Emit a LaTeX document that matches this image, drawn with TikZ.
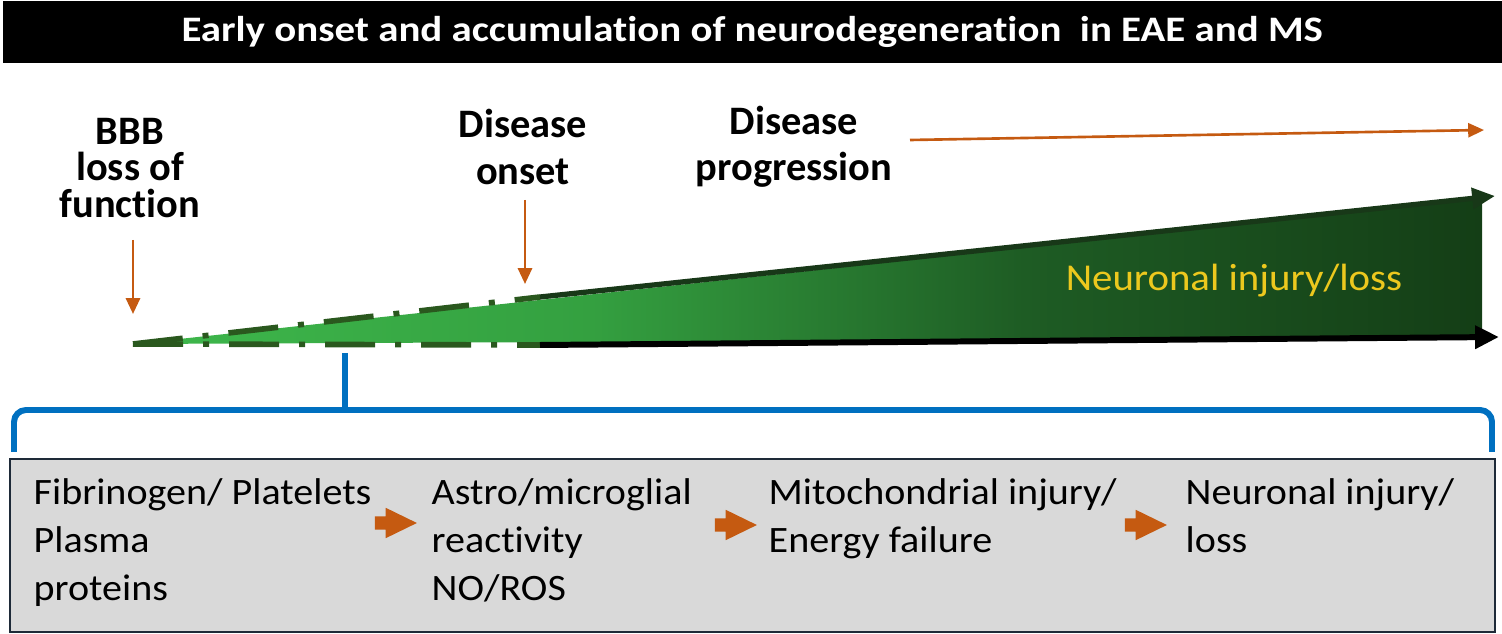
\documentclass[tikz,border=0pt]{standalone}
\usepackage{fontspec}
\setmainfont{Carlito}[Ligatures=NoCommon]
\newfontfamily\widefont{Carlito}[Ligatures=NoCommon, FakeStretch=1.075]
\newfontfamily\bannerfont{Carlito}[Ligatures=NoCommon, FakeStretch=1.14]
\usetikzlibrary{arrows.meta,shapes.arrows}
\definecolor{lightgreen}{RGB}{62,184,76}
\definecolor{fadegreen}{RGB}{52,160,64}
\definecolor{midgreen}{RGB}{30,92,36}
\definecolor{deepgreen}{RGB}{20,62,22}
\definecolor{edgegreen}{RGB}{42,88,30}
\definecolor{topgreen}{RGB}{24,56,24}
\definecolor{rust}{RGB}{197,90,17}
\definecolor{gold}{RGB}{236,200,30}
\definecolor{bracketblue}{RGB}{0,112,192}
\definecolor{boxgray}{RGB}{217,217,217}
\definecolor{boxedge}{RGB}{30,42,56}
\pgfdeclarehorizontalshading{wedgefade}{100bp}{color(0bp)=(lightgreen); color(25bp)=(lightgreen); color(42bp)=(fadegreen); color(58bp)=(midgreen); color(75bp)=(deepgreen); color(100bp)=(deepgreen)}
\tikzset{
  stagelabel/.style = {font=\bfseries\fontsize{11.5}{10.3}\selectfont, align=center, inner sep=0pt},
  steptext/.style = {font=\widefont\fontsize{10.6}{13.7}\selectfont, align=left, anchor=north west, inner sep=0pt},
  rustarrow/.style = {draw=rust, line width=0.75pt, -{Triangle[length=4.5pt, width=4pt]}},
  dashedge/.style = {draw=edgegreen, line width=1.6pt, dash pattern=on 0.5cm off 0.2cm on 0.06cm off 0.2cm},
  blockarrow/.style = {single arrow, fill=rust, inner sep=0.06cm, single arrow tip angle=52, single arrow head extend=0.085cm, minimum height=0.42cm}
}
\begin{document}
\begin{tikzpicture}[x=0.01cm, y=-0.01cm]
  \useasboundingbox (0, 0) rectangle (1502, 634);
  \node[fill=black, text=white, font=\bannerfont\bfseries\fontsize{10.2}{12}\selectfont, minimum width=14.98cm, minimum height=0.62cm, inner sep=0pt, anchor = north west] (banner) at (2, 0) {Early onset and accumulation of neurodegeneration\ \ in EAE and MS};

  \node[stagelabel] (bbb) at (130, 168) {BBB\\loss of\\function};
  \node[stagelabel, font=\bfseries\fontsize{11.5}{13.2}\selectfont] (onset) at (523, 147) {Disease\\onset};
  \node[stagelabel, font=\bfseries\fontsize{11.5}{13.2}\selectfont] (progress) at (794, 147) {Disease\\progression};

  \coordinate (tip) at (133, 344);
  \coordinate (topmid) at (540, 297);
  \coordinate (botmid) at (540, 345);
  \coordinate (topend) at (1482, 198);
  \coordinate (botend) at (1482, 338);

  \shade[shading=wedgefade] (tip) -- (topend) -- (botend) -- cycle;
  \draw[dashedge] (tip) -- (topmid);
  \draw[dashedge] (tip) -- (botmid);
  \draw[topgreen, line width=1.5pt, -{Triangle[length=6.5pt, width=5.8pt]}] (topmid) -- (1495, 196);
  \draw[black, line width=1.7pt, -{Triangle[length=6.8pt, width=6.3pt]}] (botmid) -- (1499, 337);
  \node[text=gold, font=\widefont\fontsize{10.8}{13}\selectfont, inner sep=0pt] (injury) at (1234, 281) {Neuronal injury/loss};

  \coordinate (bbbfrom) at (133, 240);
  \coordinate (bbbto) at (133, 314);
  \coordinate (onsetfrom) at (525, 200);
  \coordinate (onsetto) at (525, 284);
  \coordinate (progfrom) at (910, 140);
  \coordinate (progto) at (1484, 130);
  \draw[rustarrow] (bbbfrom) -- (bbbto);
  \draw[rustarrow] (onsetfrom) -- (onsetto);
  \draw[rustarrow] (progfrom) -- (progto);

  \coordinate (pick) at (345, 353);
  \coordinate (brace) at (345, 410);
  \draw[bracketblue, line width=1.7pt] (pick) -- (brace);
  \draw[bracketblue, line width=1.7pt, rounded corners=0.12cm] (14, 452) -- (14, 410) -- (1492, 410) -- (1492, 452);

  \node[draw=boxedge, fill=boxgray, line width=0.6pt, minimum width=14.84cm, minimum height=1.73cm, inner sep=0pt, anchor = north west] (stepsbox) at (9, 458) {};
  \node[steptext] (plasma) at (33, 478) {Fibrinogen/ Platelets\\Plasma\\proteins};
  \node[steptext] (glia) at (431, 478) {Astro/microglial\\reactivity\\NO/ROS};
  \node[steptext] (mito) at (768, 478) {Mitochondrial injury/\\Energy failure};
  \node[steptext] (neuron) at (1185, 478) {Neuronal injury/\\loss};
  \node[blockarrow] (step1) at (389, 523) {};
  \node[blockarrow] (step2) at (729, 525) {};
  \node[blockarrow] (step3) at (1139, 525) {};
\end{tikzpicture}
\end{document}
